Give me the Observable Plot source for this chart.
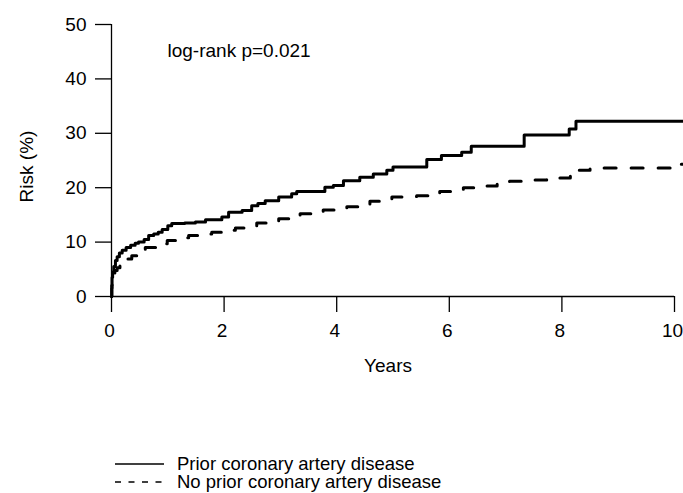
<!DOCTYPE html>
<html>
<head>
<meta charset="utf-8">
<script src="https://cdn.jsdelivr.net/npm/d3@7"></script>
<script src="https://cdn.jsdelivr.net/npm/@observablehq/plot@0.6"></script>
<style>
  body { margin: 0; background: white; }
  #wrap { position: relative; width: 683px; height: 493px; background: white; font-family: "Liberation Sans", Arial, sans-serif; overflow: hidden; }
  #legend { position: absolute; left: 115px; top: 455px; font-size: 18.5px; color: black; }
  .row { display: flex; align-items: center; height: 18px; line-height: 18px; white-space: nowrap; }
  .row svg { margin-right: 13px; display: block; }
</style>
</head>
<body>
<div id="wrap"></div>
<script>
// Time (years) and cumulative risk (%) for each group
const priorT = [0, 0.005, 0.01, 0.02, 0.04, 0.07, 0.1, 0.14, 0.19, 0.26, 0.34, 0.42, 0.48, 0.58, 0.66, 0.75, 0.83, 0.9, 1.0, 1.07, 1.3, 1.49, 1.67, 1.96, 2.08, 2.32, 2.49, 2.6, 2.73, 2.97, 3.2, 3.29, 3.79, 3.94, 4.12, 4.41, 4.65, 4.89, 5.0, 5.6, 5.86, 6.22, 6.39, 7.33, 8.13, 8.25, 10.15];
const priorR = [0, 2.0, 3.5, 4.5, 5.5, 6.6, 7.3, 8.0, 8.5, 9.0, 9.4, 9.8, 10.0, 10.5, 11.2, 11.5, 11.8, 12.3, 13.0, 13.4, 13.5, 13.7, 14.1, 14.6, 15.5, 15.8, 16.7, 17.1, 17.6, 18.3, 18.9, 19.3, 20.1, 20.4, 21.3, 21.9, 22.5, 23.2, 23.8, 25.2, 25.9, 26.5, 27.6, 29.7, 30.8, 32.2, 32.2];

const noPriorT = [0, 0.005, 0.01, 0.03, 0.06, 0.1, 0.15, 0.22, 0.28, 0.36, 0.45, 0.6, 0.8, 0.99, 1.2, 1.37, 1.57, 1.78, 2.0, 2.2, 2.4, 2.58, 2.78, 2.97, 3.15, 3.35, 3.55, 3.76, 3.97, 4.18, 4.4, 4.59, 4.8, 4.98, 5.2, 5.42, 5.62, 5.83, 6.05, 6.25, 6.45, 6.66, 6.85, 7.07, 7.3, 7.51, 7.73, 7.95, 8.15, 8.3, 8.5, 8.72, 9.79, 10.08, 10.15];
const noPriorR = [0, 1.5, 2.9, 4.0, 4.8, 5.3, 6.0, 6.5, 6.9, 7.5, 8.2, 9.0, 9.7, 10.3, 10.8, 11.2, 11.5, 11.8, 12.2, 12.6, 13.0, 13.5, 13.9, 14.3, 14.8, 15.2, 15.5, 15.9, 16.2, 16.5, 17.0, 17.5, 17.9, 18.3, 18.4, 18.5, 18.9, 19.3, 19.7, 20.0, 20.2, 20.3, 20.7, 21.2, 21.3, 21.4, 21.6, 21.8, 22.6, 23.2, 23.5, 23.6, 23.6, 24.3, 24.3];

const seriesNames = ["Prior coronary artery disease", "No prior coronary artery disease"];
const xTicks = [0, 2, 4, 6, 8, 10];
const yTicks = [0, 10, 20, 30, 40, 50];
const xLabel = "Years";
const yLabel = "Risk (%)";
const annotation = "log-rank p=0.021";

const prior = priorT.map((t, i) => ({t, r: priorR[i]}));
const noPrior = noPriorT.map((t, i) => ({t, r: noPriorR[i]}));

const font = "'Liberation Sans', Arial, sans-serif";

const chart = Plot.plot({
  width: 683,
  height: 420,
  marginLeft: 111,
  marginRight: 9,
  marginTop: 24,
  marginBottom: 124,
  x: {domain: [0, 10]},
  y: {domain: [0, 50]},
  style: {fontFamily: font, fontSize: "19px", color: "black", background: "white"},
  marks: [
    // tick lines only
    Plot.axisX({ticks: xTicks, tickSize: 16, tickFormat: () => "", label: null, strokeWidth: 1.3}),
    // tick labels, nudged slightly left like the reference
    Plot.axisX({ticks: xTicks, tickSize: 0, tickPadding: 27, dx: -2, label: null, fontSize: 19}),
    Plot.axisY({ticks: yTicks, tickSize: 16, tickPadding: 9, label: null, strokeWidth: 1.3, fontSize: 19}),
    Plot.ruleY([0], {stroke: "black", strokeWidth: 1.3}),
    Plot.ruleX([0], {stroke: "black", strokeWidth: 1.3}),
    Plot.line(noPrior, {x: "t", y: "r", curve: "step-after", stroke: "black", strokeWidth: 3, strokeDasharray: "12,15"}),
    Plot.line(prior, {x: "t", y: "r", curve: "step-after", stroke: "black", strokeWidth: 3}),
    Plot.text([xLabel], {frameAnchor: "bottom", textAnchor: "middle", lineAnchor: "middle", dy: 69, dx: -5, fontSize: 19, fill: "black"}),
    Plot.text([yLabel], {frameAnchor: "left", textAnchor: "middle", lineAnchor: "middle", rotate: -90, dx: -85, dy: 6, fontSize: 19, fill: "black"}),
    Plot.text([annotation], {frameAnchor: "top-left", textAnchor: "start", lineAnchor: "middle", dx: 56, dy: 26, fontSize: 19, fill: "black"})
  ]
});

const wrap = document.getElementById("wrap");
wrap.appendChild(chart);

// Legend below the chart
const legend = document.createElement("div");
legend.id = "legend";
const dashes = [null, "6,7.5"];
seriesNames.forEach((name, i) => {
  const row = document.createElement("div");
  row.className = "row";
  const svg = d3.create("svg").attr("width", 49).attr("height", 18);
  svg.append("line").attr("x1", 0).attr("x2", 49).attr("y1", 9).attr("y2", 9)
    .attr("stroke", "black").attr("stroke-width", 1.3)
    .attr("stroke-dasharray", dashes[i]);
  row.appendChild(svg.node());
  const span = document.createElement("span");
  span.textContent = name;
  row.appendChild(span);
  legend.appendChild(row);
});
wrap.appendChild(legend);
</script>
</body>
</html>
